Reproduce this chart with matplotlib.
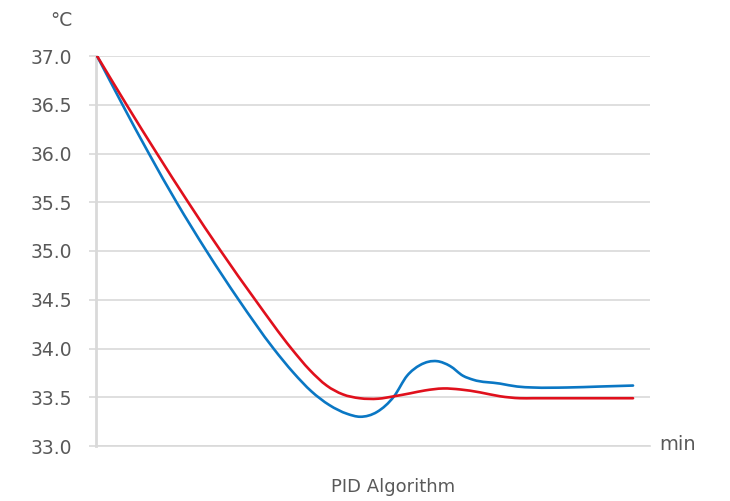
import matplotlib
matplotlib.use("Agg")
import matplotlib.pyplot as plt
from matplotlib.path import Path
from matplotlib.patches import PathPatch

# Data (time in arbitrary minutes, temperature in °C)
blue_t = [0, 2.85, 5.8, 8.9, 12.25, 15.85, 19.75, 22.0, 24.0, 26.0, 28.0,
          29.44, 31.35, 33.25, 34.7, 36.16, 38.06, 39.52, 40.97, 42.09, 45.11,
          47.02, 48.8, 52.6, 56.3, 60.0]
blue_v = [37.0, 36.5, 36.0, 35.5, 35.0, 34.5, 34.0, 33.75, 33.56, 33.42, 33.33,
          33.30, 33.35, 33.51, 33.72, 33.83, 33.87, 33.82, 33.72, 33.68, 33.64,
          33.61, 33.60, 33.60, 33.61, 33.62]

red_t = [0, 3.3, 6.7, 10.2, 13.85, 17.7, 21.75, 23.8, 25.7, 27.5, 29.4,
         31.46, 33.25, 35.04, 36.72, 38.73, 40.64, 42.87, 45.11, 47.35, 48.8,
         54.07, 60.0]
red_v = [37.0, 36.5, 36.0, 35.5, 35.0, 34.5, 34.0, 33.78, 33.62, 33.53, 33.49,
         33.485, 33.51, 33.54, 33.57, 33.59, 33.58, 33.55, 33.51, 33.49, 33.49,
         33.49, 33.49]

y_ticks = [33.0, 33.5, 34.0, 34.5, 35.0, 35.5, 36.0, 36.5, 37.0]
y_tick_labels = ["33.0", "33.5", "34.0", "34.5", "35.0", "35.5", "36.0", "36.5", "37.0"]

plt.rcParams['font.family'] = ['DejaVu Sans']
TEXT = "#595959"
GRID = "#d9d9d9"


def smooth_path(xs, ys):
    """Smoothed line through the given points (cubic Hermite in x)."""
    n = len(xs)
    sec = [(ys[i + 1] - ys[i]) / (xs[i + 1] - xs[i]) for i in range(n - 1)]
    m = [sec[0]] + [(sec[i - 1] * (xs[i + 1] - xs[i]) + sec[i] * (xs[i] - xs[i - 1]))
                    / (xs[i + 1] - xs[i - 1]) for i in range(1, n - 1)] + [sec[-1]]
    verts = [(xs[0], ys[0])]
    codes = [Path.MOVETO]
    for i in range(n - 1):
        h = xs[i + 1] - xs[i]
        verts += [(xs[i] + h / 3, ys[i] + m[i] * h / 3),
                  (xs[i + 1] - h / 3, ys[i + 1] - m[i + 1] * h / 3),
                  (xs[i + 1], ys[i + 1])]
        codes += [Path.CURVE4] * 3
    return Path(verts, codes)


fig = plt.figure(figsize=(7.30, 5.01), dpi=100)
ax = fig.add_axes([96/730, 55/501, (650-96)/730, (446-56)/501])

for t, v, c, z in [(blue_t, blue_v, "#0a77c4", 3), (red_t, red_v, "#e0101c", 4)]:
    ax.add_patch(PathPatch(smooth_path(t, v), facecolor="none", edgecolor=c,
                           lw=1.9, capstyle="round", joinstyle="round", zorder=z))

ax.set_ylim(33.0, 37.0)
ax.set_xlim(-0.12, 61.9)
ax.set_yticks(y_ticks)
ax.set_yticklabels(y_tick_labels)
ax.set_xticks([])
ax.grid(axis="y", color=GRID, lw=1.2)
ax.set_axisbelow(True)
ax.tick_params(axis="y", direction="out", length=5, width=1.2, color=GRID,
               labelsize=13.5, labelcolor=TEXT, pad=12)
for s in ["top", "right"]:
    ax.spines[s].set_visible(False)
ax.spines["left"].set_color(GRID)
ax.spines["left"].set_linewidth(2)
ax.spines["bottom"].set_color(GRID)
ax.spines["bottom"].set_linewidth(1.2)

fig.text(72/730, 1 - 21/501, "°C", ha="right", va="center", fontsize=13.5, color=TEXT)
fig.text(659/730, 1 - 445/501, "min", ha="left", va="center", fontsize=14, color=TEXT)
fig.text(393/730, 1 - 487/501, "PID Algorithm", ha="center", va="center", fontsize=13, color=TEXT)

fig.savefig("out.png", dpi=100)
